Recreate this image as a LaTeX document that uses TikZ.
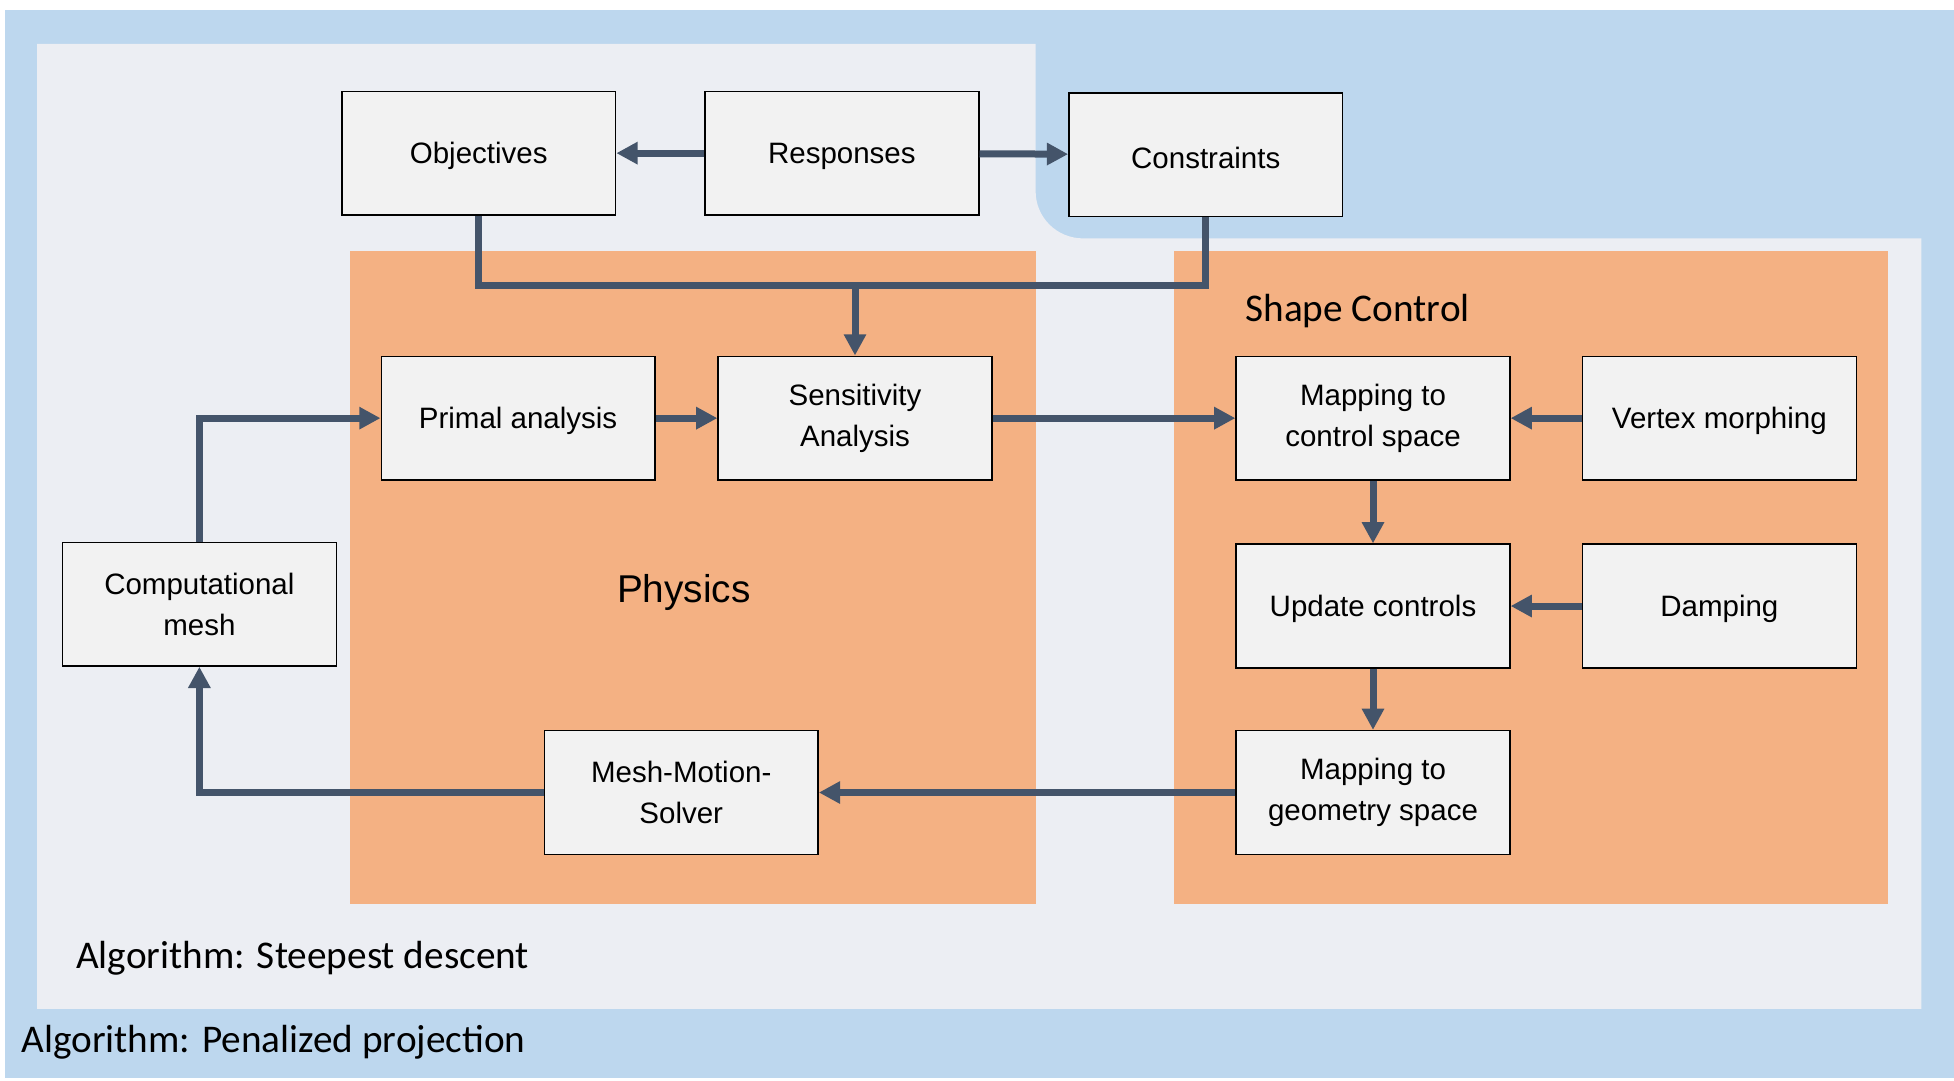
\documentclass[tikz,border=0pt]{standalone}
\usepackage{fontspec}
\setmainfont{Liberation Sans}
\newfontfamily\labelfont{Carlito}
\usepackage{tikz}
\usetikzlibrary{arrows.meta}

\definecolor{outerblue}{HTML}{BDD7EE}
\definecolor{innergray}{HTML}{ECEEF3}
\definecolor{grouporange}{HTML}{F4B183}
\definecolor{boxgray}{HTML}{F2F2F2}
\definecolor{flowline}{HTML}{44546A}

\begin{document}
\begin{tikzpicture}[x=0.5pt, y=-0.5pt, >={Triangle[length=8.5pt,width=8.5pt]}]
        \tikzstyle{block}=[draw=black, line width=0.6pt, fill=boxgray, minimum width=109.5pt, minimum height=49.5pt, inner sep=0pt, align=center, font=\fontsize{11.8pt}{16.5pt}\selectfont, execute at begin node=\rule{0pt}{11pt}]
        \tikzstyle{flow}=[->, draw=flowline, line width=2.8pt]
        \tikzstyle{caption}=[anchor=base west, inner sep=0pt, font=\labelfont\fontsize{15.7pt}{19pt}\selectfont]

        % backgrounds
        \useasboundingbox (0,0) rectangle (1563.2,864);
        \fill[outerblue] (4,8) rectangle (1563.2,862);
        \fill[innergray] (29.6,35) -- (828.5,35) -- (828.5,153)
              .. controls (828.5,174) and (845.5,190.7) .. (866.5,190.7)
              -- (1537,190.7) -- (1537,807) -- (29.6,807) -- cycle;
        \fill[grouporange] (280,200.5) rectangle (828.5,723.5);
        \fill[grouporange] (939,200.5) rectangle (1510,723.5);

        \node[caption] (penalized) at (16.8,842) {Algorithm: Penalized projection};
        \node[caption] (steepest) at (60.6,774.6) {Algorithm: Steepest descent};
        \node[caption] (shapecontrol) at (996,257) {Shape Control};
        \node[font=\fontsize{15.5pt}{19pt}\selectfont] (physics) at (547,474) {Physics};

        % blocks
        \node[block] (objectives) at (383,122.5) {Objectives};
        \node[block] (responses) at (673.5,122.5) {Responses};
        \node[block] (constraints) at (964.6,123.8) {Constraints};
        \node[block] (primal) at (414.5,334.5) {Primal analysis};
        \node[block] (sensitivity) at (684,334.5) {Sensitivity\\Analysis};
        \node[block] (mesh) at (159.5,483.3) {Computational\\mesh};
        \node[block] (solver) at (545,634) {Mesh-Motion-\\Solver};
        \node[block] (mapcontrol) at (1098.4,334.5) {Mapping to\\control space};
        \node[block] (vertex) at (1375.5,334.5) {Vertex morphing};
        \node[block] (update) at (1098.4,484.8) {Update controls};
        \node[block] (damping) at (1375.5,484.8) {Damping};
        \node[block] (mapgeometry) at (1098.4,634) {Mapping to\\geometry space};

        \coordinate (join) at (684,228.3);

        % connectors
        \draw[flow] (responses) -- (objectives);
        \draw[flow] (responses) -- (constraints);
        \draw[draw=flowline, line width=2.8pt] (objectives) |- (join) -| (constraints);
        \draw[flow] (join) -- (sensitivity);
        \draw[flow] (primal) -- (sensitivity);
        \draw[flow] (sensitivity) -- (mapcontrol);
        \draw[flow] (vertex) -- (mapcontrol);
        \draw[flow] (mapcontrol) -- (update);
        \draw[flow] (damping) -- (update);
        \draw[flow] (update) -- (mapgeometry);
        \draw[flow] (mapgeometry) -- (solver);
        \draw[flow] (solver) -| (mesh);
        \draw[flow] (mesh) |- (primal);
    \end{tikzpicture}
\end{document}
